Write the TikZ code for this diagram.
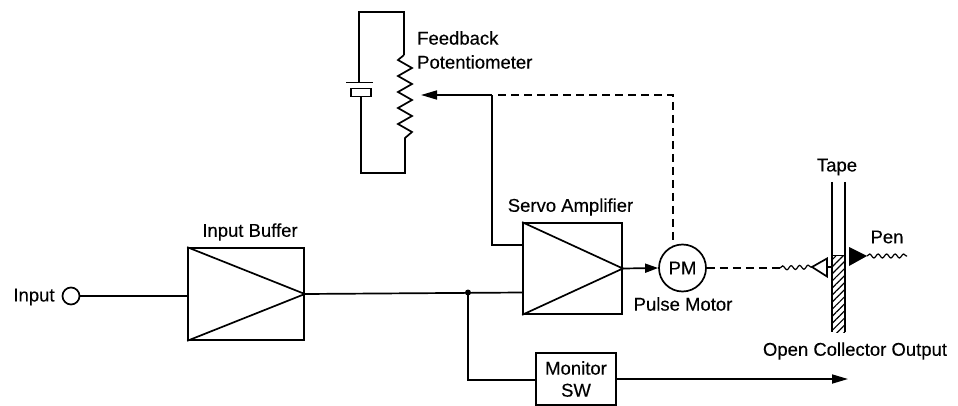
\documentclass[tikz,border=0pt]{standalone}
\usepackage{fontspec}
\setmainfont{Liberation Sans}[FakeBold=0.25]
\usetikzlibrary{arrows.meta,decorations.pathmorphing,patterns.meta}
\tikzset{
  wire/.style={line width=1.7pt},
  tip/.style={wire,-{Triangle[length=16pt,width=9pt]}},
  dashwire/.style={line width=1.5pt,dash pattern=on 8pt off 5pt},
  wavy/.style={line width=1.2pt,decorate,decoration={snake,amplitude=2pt,segment length=8.5pt}},
  ampbox/.style={draw,line width=1.7pt,inner sep=0pt,minimum width=#1},
  lbl/.style={font=\fontsize{18.5}{22}\selectfont,inner sep=0pt}
}
\begin{document}
\begin{tikzpicture}[x=1pt,y=-1pt]
  \useasboundingbox (0,0) rectangle (958,406);

  \node[lbl] (inputlbl) at (34,297) {Input};
  \node[draw,circle,line width=1.7pt,minimum size=17pt,inner sep=0pt] (input) at (71,296) {};

  \node[ampbox=116pt,minimum height=92pt] (buffer) at (246,294) {}; % input buffer
  \node[lbl] at (250,232) {Input Buffer};
  \draw[line width=1.7pt] (buffer.north west)--(buffer.east)--(buffer.south west);

  \node[ampbox=99pt,minimum height=91pt] (servo) at (572.5,268.5) {}; % servo amplifier
  \node[lbl] at (570.5,207) {Servo Amplifier};
  \draw[line width=1.7pt] (servo.north west)--(servo.east)--(servo.south west);

  \node[draw,circle,line width=1.7pt,minimum size=47pt,inner sep=0pt,lbl] (pm) at (682.5,268) {PM};
  \node[lbl] at (683,304) {Pulse Motor};

  \node[draw,line width=1.7pt,minimum width=80pt,minimum height=52pt,inner sep=0pt,
        lbl,align=center] (monitor) at (576,379) {Monitor\\SW};

  \coordinate (servoin) at (servo.west |- 0,292.5);
  \coordinate (servofb) at (servo.west |- 0,245);
  \coordinate (bend) at (492,245);
  \coordinate (corner) at (492,95);
  \coordinate (wiper) at (421,95);
  \coordinate (dashstart) at (498,95);
  \coordinate (dashcorner) at (673,95);
  \coordinate (pmtop) at (673,245);
  \coordinate (junction) at (468,292.5);
  \coordinate (monbend) at (468,380);
  \coordinate (outend) at (848,379);

  \draw[wire] (input)--(buffer.west |- input);
  \draw[wire] (buffer.east)--(servoin);
  \fill (junction) circle[radius=3pt];
  \draw[wire] (junction)--(monbend)--(monitor.west |- monbend);
  \draw[tip] (monitor.east |- outend)--(outend);
  \draw[wire] (servofb)--(bend)--(corner);
  \draw[tip] (corner)--(wiper);
  \draw[dashwire] (dashstart)--(dashcorner)--(pmtop);
  \draw[wire,-{Triangle[length=13pt,width=9pt]}] (servo.east)--(pm.west);

  % battery and potentiometer
  \coordinate (loopnw) at (359,12);
  \coordinate (loopne) at (404,12);
  \coordinate (resin) at (404,55);
  \coordinate (resout) at (405,138);
  \coordinate (loopse) at (405,173);
  \coordinate (loopsw) at (361,173);
  \coordinate (platelong) at (359,82);
  \coordinate (plateshort) at (361,97);
  \draw[wire] (platelong)--(loopnw)--(loopne)--(resin);
  \draw[wire] (resin)--(398,60)--(412,68)--(398,76)--(412,84)--(398,92)--(412,100)
    --(398,108)--(412,116)--(398,124)--(412,132)--(resout)--(loopse)--(loopsw)--(plateshort);
  \draw[wire] (346,82.5)--(373,82.5);
  \draw[wire] (351,88.5) rectangle (371,96.5);
  \node[lbl,anchor=west] at (417,38) {Feedback};
  \node[lbl,anchor=west] at (417,62) {Potentiometer};

  % tape
  \coordinate (tapel) at (832,182);
  \coordinate (taper) at (845,182);
  \coordinate (tapelb) at (832,332);
  \coordinate (taperb) at (845,332);
  \coordinate (inkl) at (832,255.5);
  \coordinate (inkr) at (845,255.5);
  \fill[pattern={Lines[angle=45,distance=5pt,line width=1.2pt]},pattern color=black] (inkl) rectangle (taperb);
  \draw[wire] (tapel)--(tapelb);
  \draw[wire] (taper)--(taperb);
  \draw[wire] (inkl)--(inkr);
  \node[lbl] at (837,167) {Tape};
  \node[lbl] at (887,237) {Pen};
  \node[lbl] at (855,351) {Open Collector Output};

  % pen marks
  \coordinate (opentip) at (812,267);
  \coordinate (openu) at (827,258.5);
  \coordinate (opend) at (827,276.5);
  \coordinate (wavestart) at (780,268);
  \draw[dashwire] (pm.east)--(wavestart);
  \draw[wavy] (wavestart)--(opentip);
  \draw[wire,line join=miter] (opentip)--(openu)--(opend)--cycle;
  \draw[wire] (827,267)--(tapel |- 0,267);
  \coordinate (pentip) at (867,256);
  \coordinate (penend) at (907,256);
  \fill (pentip)--(849,247)--(849,266)--cycle;
  \draw[wavy] (pentip)--(penend);
\end{tikzpicture}
\end{document}
